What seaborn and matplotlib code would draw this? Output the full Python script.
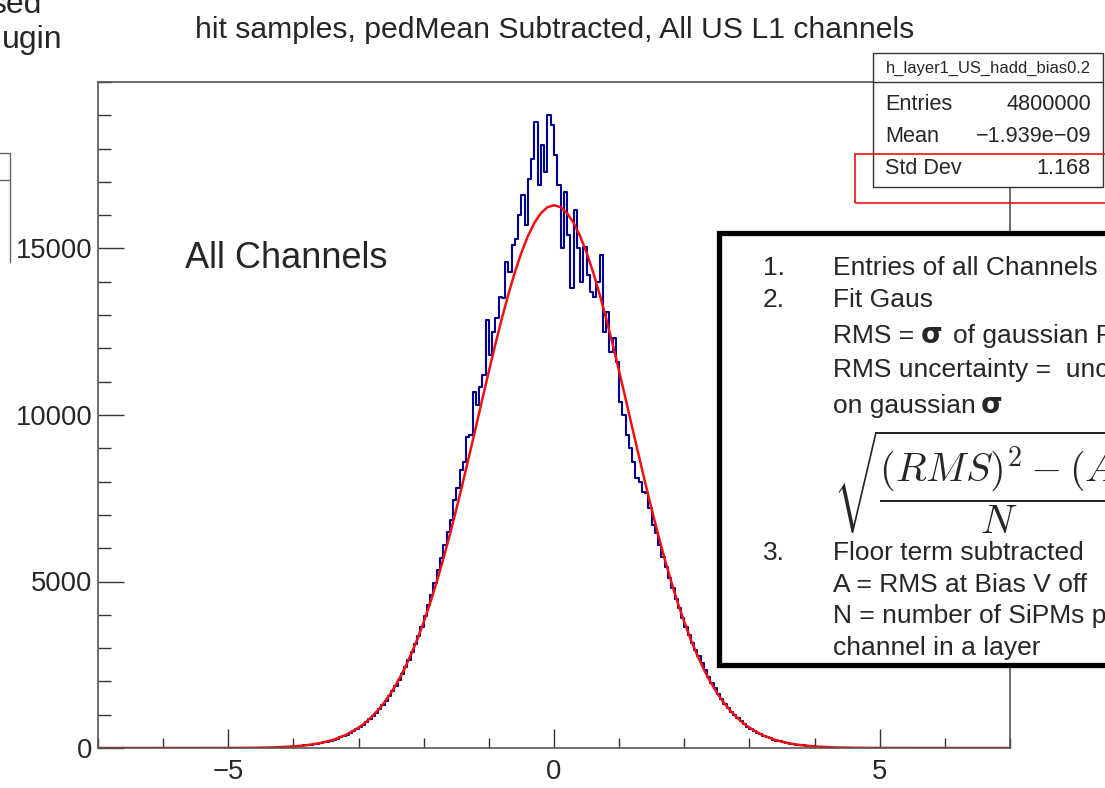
import numpy as np
import pandas as pd
import matplotlib
matplotlib.use("Agg")
import matplotlib.pyplot as plt
import seaborn as sns
from matplotlib import font_manager
from matplotlib.patches import Rectangle
from matplotlib.lines import Line2D
from matplotlib.ticker import FixedLocator, MultipleLocator

# ---------------- data ----------------
title = "hit samples, pedMean Subtracted, All US L1 channels"
hist_name = "h_layer1_US_hadd_bias0.2"
stat_labels = ["Entries", "Mean", "Std Dev"]
stat_values = ["4800000", "\u22121.939e\u221209", "1.168"]

hist_lo, hist_hi, hist_nbins = -4.0, 4.0, 160
# counts per bin (bin centres -3.975 ... 3.975)
hist_counts_neg = [
    50, 58, 67, 77, 88, 101, 115, 131, 150, 170, 194, 220, 249, 282, 318, 358, 403, 452, 505, 565,
    630, 700, 780, 865, 960, 1060, 1170, 1290, 1420, 1560, 1710, 1870, 2040, 2230, 2430, 2640, 2870, 3110, 3370, 3640,
    3950, 4280, 4600, 4950, 5350, 5700, 6100, 6500, 6850, 7450, 7800, 8350, 8600, 9340, 9400, 10690, 10300, 10840, 11200, 12850,
    11800, 12500, 12900, 13540, 13500, 14600, 14300, 15100, 15300, 16000, 16600, 15700, 17100, 17700, 18800, 16900, 18100, 17300, 19000, 18700,
]
hist_counts_pos = [
    17800, 16900, 15000, 16700, 15400, 13800, 16150, 15000, 14000, 15050, 14200, 13700, 13550, 14000, 14800, 12500, 13100, 11900, 12300, 11600,
    10400, 10000, 9400, 9000, 8600, 8100, 8000, 7700, 7650, 7200, 6700, 6450, 6100, 5750, 5450, 5120, 4800, 4480, 4200, 3900,
    3620, 3400, 3150, 2950, 2760, 2540, 2330, 2140, 1960, 1790, 1630, 1480, 1330, 1200, 1090, 985, 890, 800, 720, 645,
    578, 517, 462, 410, 366, 325, 288, 254, 225, 198, 174, 153, 134, 117, 103, 90, 78, 68, 59, 51,
]

# gaussian fit curve
fit_x = [-7.0, -5.0, -4.6, -4.3, -4.0, -3.8, -3.6, -3.4, -3.2, -3.0,
         -2.9, -2.8, -2.7, -2.6, -2.5, -2.4, -2.3, -2.2, -2.1, -2.0,
         -1.9, -1.8, -1.7, -1.6, -1.5, -1.4, -1.3, -1.2, -1.1, -1.0,
         -0.9, -0.8, -0.7, -0.6, -0.5, -0.4, -0.3, -0.2, -0.1, 0.0,
         0.1, 0.2, 0.3, 0.4, 0.5, 0.6, 0.7, 0.8, 0.9, 1.0,
         1.1, 1.2, 1.3, 1.4, 1.5, 1.6, 1.7, 1.8, 1.9, 2.0,
         2.1, 2.2, 2.3, 2.4, 2.5, 2.6, 2.7, 2.8, 2.9, 3.0,
         3.2, 3.4, 3.6, 3.8, 4.0, 4.3, 4.6, 5.0, 7.0]
fit_y = [0, 2, 7, 19, 47, 83, 143, 239, 387, 609,
         755, 930, 1138, 1380, 1662, 1988, 2361, 2782, 3256, 3782,
         4360, 4991, 5673, 6399, 7167, 7967, 8794, 9633, 10478, 11314,
         12126, 12903, 13627, 14292, 14878, 15375, 15772, 16064, 16241, 16300,
         16241, 16064, 15772, 15375, 14878, 14292, 13627, 12903, 12126, 11314,
         10478, 9633, 8794, 7967, 7167, 6399, 5673, 4991, 4360, 3782,
         3256, 2782, 2361, 1988, 1662, 1380, 1138, 930, 755, 609,
         387, 239, 143, 83, 47, 19, 7, 2, 0]

x_major = [-5, 0, 5]
y_major = [0, 5000, 10000, 15000]

# ---------------- style ----------------
sns.set_style("ticks")
names = {f.name for f in font_manager.fontManager.ttflist}
if "Liberation Sans Narrow" in names:
    ROOT_FONT, RS = "Liberation Sans Narrow", 1.0
else:
    ROOT_FONT, RS = "Liberation Sans", 0.82
ARIAL = "Liberation Sans"
plt.rcParams["font.family"] = [ARIAL, "DejaVu Sans"]
plt.rcParams["mathtext.fontset"] = "cm"

W, H = 1105, 788
fig = plt.figure(figsize=(W / 100, H / 100), dpi=100)
fig.patch.set_facecolor("white")
ax = fig.add_axes([98 / W, 1 - 748 / H, 912 / W, 666 / H])


def fx(px):
    return px / W


def fy(py):
    return 1 - py / H


binw = (hist_hi - hist_lo) / hist_nbins
centers = hist_lo + binw * (np.arange(hist_nbins) + 0.5)
counts = np.array(hist_counts_neg + hist_counts_pos, dtype=float)
df = pd.DataFrame({"x": centers, "n": counts})

sns.histplot(data=df, x="x", weights="n", binwidth=binw, binrange=(hist_lo, hist_hi),
             element="step", fill=False, color="#000090", linewidth=1.5, ax=ax)
sns.lineplot(x=fit_x, y=fit_y, color="#ee1111", linewidth=1.8, ax=ax)

ax.set_xlim(-7, 7)
ax.set_ylim(0, 20000)
ax.set_xlabel("")
ax.set_ylabel("")
ax.xaxis.set_major_locator(FixedLocator(x_major))
ax.xaxis.set_minor_locator(MultipleLocator(1))
ax.yaxis.set_major_locator(FixedLocator(y_major))
ax.yaxis.set_minor_locator(MultipleLocator(1000))
ax.set_xticklabels(["\u22125", "0", "5"])
ax.set_yticklabels([str(v) for v in y_major])
for lab in ax.get_xticklabels() + ax.get_yticklabels():
    lab.set_fontfamily(ROOT_FONT)
    lab.set_fontsize(24 * RS)
ax.tick_params(axis="x", which="major", direction="in", length=14, width=1, color="#333333", pad=8, bottom=True, top=False)
ax.tick_params(axis="x", which="minor", direction="in", length=7, width=1, color="#333333", bottom=True, top=False)
ax.tick_params(axis="y", which="major", direction="in", length=19, width=1, color="#333333", pad=4, left=True, right=False)
ax.tick_params(axis="y", which="minor", direction="in", length=9, width=1, color="#333333", left=True, right=False)
for sp in ax.spines.values():
    sp.set_visible(True)
    sp.set_color("#555555")
    sp.set_linewidth(1.2)

# title
fig.text(fx(555), fy(38), title, ha="center", va="baseline", fontsize=26.5 * RS, family=ROOT_FONT)

# cut-off slide text top left
fig.text(fx(42), fy(13), "sed", ha="right", va="baseline", fontsize=23, family=ARIAL)
fig.text(fx(63), fy(48), "ugin", ha="right", va="baseline", fontsize=23, family=ARIAL)
fig.add_artist(Line2D([fx(10), fx(10)], [fy(153), fy(262)], transform=fig.transFigure, color="#666666", lw=1))
fig.add_artist(Line2D([fx(0), fx(10)], [fy(153), fy(153)], transform=fig.transFigure, color="#666666", lw=1))
fig.add_artist(Line2D([fx(0), fx(10)], [fy(180), fy(180)], transform=fig.transFigure, color="#666666", lw=1))

# "All Channels"
fig.text(fx(185), fy(268), "All Channels", ha="left", va="baseline", fontsize=26, family=ARIAL)

# stats box
fig.add_artist(Rectangle((fx(873), fy(187)), fx(1103) - fx(873), fy(53) - fy(187),
                         transform=fig.transFigure, facecolor="white", edgecolor="#333333", lw=1, zorder=2))
fig.add_artist(Line2D([fx(873), fx(1103)], [fy(82), fy(82)], transform=fig.transFigure,
                      color="#333333", lw=1, zorder=2.1))
fig.text(fx(988), fy(68), hist_name, ha="center", va="center", fontsize=14.5 * RS, family=ROOT_FONT, zorder=3)
for lab, val, yy in zip(stat_labels, stat_values, [104, 136, 168]):
    fig.text(fx(885), fy(yy), lab, ha="left", va="center", fontsize=19 * RS, family=ROOT_FONT, zorder=3)
    fig.text(fx(1091), fy(yy), val, ha="right", va="center", fontsize=19 * RS, family=ROOT_FONT, zorder=3)

# red highlight
fig.add_artist(Rectangle((fx(855), fy(203)), fx(1130) - fx(855), fy(154) - fy(203),
                         transform=fig.transFigure, facecolor="none", edgecolor="#ee1111", lw=1.2, zorder=4))

# black annotation box
fig.add_artist(Rectangle((fx(719), fy(665)), fx(1130) - fx(719), fy(232.5) - fy(665),
                         transform=fig.transFigure, facecolor="white", edgecolor="black", lw=3.8, zorder=2))

fs = 19
def bt(px, py, s, **kw):
    kw.setdefault("fontsize", fs)
    kw.setdefault("family", ARIAL)
    fig.text(fx(px), fy(py), s, ha="left", va="baseline", zorder=5, **kw)

bt(763, 275, "1.")
bt(833, 275, "Entries of all Channels")
bt(763, 307, "2.")
bt(833, 307, "Fit Gaus")
bt(833, 343, "RMS = ")
bt(921, 343, "\u03c3", family="DejaVu Sans", weight="bold", fontsize=20)
bt(953, 343, "of gaussian F")
bt(833, 377, "RMS uncertainty =  unc")
bt(833, 413, "on gaussian ")
bt(981, 413, "\u03c3", family="DejaVu Sans", weight="bold", fontsize=20)
fig.text(fx(833), fy(482), r"$\sqrt{\dfrac{(RMS)^2-(A}{N}}$", ha="left", va="center",
         fontsize=29, zorder=5)
bt(763, 560, "3.")
bt(833, 560, "Floor term subtracted")
bt(833, 592, "A = RMS at Bias V off")
bt(833, 623, "N = number of SiPMs p")
bt(833, 655, "channel in a layer")

fig.savefig("out.png", dpi=100, facecolor="white")
